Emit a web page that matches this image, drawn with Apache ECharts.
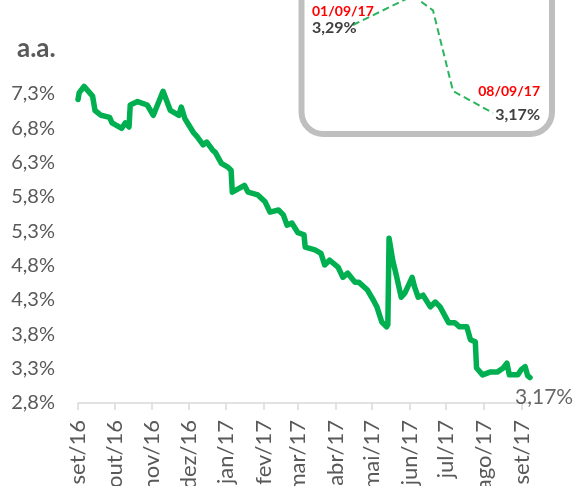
<!DOCTYPE html>
<html>
<head>
<meta charset="utf-8">
<script src="https://cdn.jsdelivr.net/npm/echarts@6/dist/echarts.min.js"></script>
<style>
  html, body { margin: 0; padding: 0; background: #ffffff; }
  #chart { width: 577px; height: 486px; }
</style>
</head>
<body>
<div id="chart"></div>
<script>
// Month abbreviations for the date axis (pt-BR)
const monthNames = ['jan', 'fev', 'mar', 'abr', 'mai', 'jun', 'jul', 'ago', 'set', 'out', 'nov', 'dez'];

// Axis range and y tick spacing (% a.a.)
const axisStart = '2016-09-01';
const axisEnd = '2017-09-08';
const yMin = 2.8;
const yMax = 7.3;
const yStep = 0.5;

// Daily rate, set/16 - ago/17 (% a.a.)
const dates = [
  '2016-09-01', '2016-09-02', '2016-09-06', '2016-09-13', '2016-09-15', '2016-09-20',
  '2016-09-27', '2016-09-29', '2016-10-07', '2016-10-10', '2016-10-13', '2016-10-14',
  '2016-10-20', '2016-10-28', '2016-11-02', '2016-11-10', '2016-11-16', '2016-11-23',
  '2016-11-25', '2016-11-28', '2016-12-05', '2016-12-08', '2016-12-13', '2016-12-16',
  '2016-12-21', '2016-12-23', '2016-12-28', '2017-01-02', '2017-01-05', '2017-01-06',
  '2017-01-16', '2017-01-19', '2017-01-27', '2017-02-02', '2017-02-06', '2017-02-13',
  '2017-02-17', '2017-02-20', '2017-02-24', '2017-03-01', '2017-03-06', '2017-03-07',
  '2017-03-15', '2017-03-20', '2017-03-23', '2017-03-27', '2017-04-03', '2017-04-07',
  '2017-04-11', '2017-04-17', '2017-04-20', '2017-04-27', '2017-05-02', '2017-05-05',
  '2017-05-09', '2017-05-13', '2017-05-14', '2017-05-15', '2017-05-18', '2017-05-21',
  '2017-05-25', '2017-05-28', '2017-06-03', '2017-06-05', '2017-06-08', '2017-06-12',
  '2017-06-18', '2017-06-22', '2017-06-26', '2017-07-03', '2017-07-08', '2017-07-12',
  '2017-07-18', '2017-07-21', '2017-07-25', '2017-07-26', '2017-07-31', '2017-08-06',
  '2017-08-12', '2017-08-17', '2017-08-20', '2017-08-22', '2017-08-29'
];
const rates = [
  7.22, 7.32, 7.41, 7.27, 7.06, 6.99,
  6.96, 6.88, 6.80, 6.88, 6.82, 7.14,
  7.19, 7.14, 6.99, 7.34, 7.06, 6.99,
  7.11, 6.94, 6.74, 6.68, 6.56, 6.60,
  6.48, 6.45, 6.29, 6.24, 6.19, 5.87,
  5.97, 5.87, 5.83, 5.73, 5.58, 5.61,
  5.54, 5.39, 5.42, 5.28, 5.25, 5.07,
  5.03, 4.98, 4.81, 4.88, 4.78, 4.63,
  4.69, 4.56, 4.56, 4.45, 4.30, 4.20,
  3.98, 3.91, 3.94, 5.20, 4.88, 4.66,
  4.34, 4.40, 4.63, 4.49, 4.34, 4.37,
  4.20, 4.27, 4.20, 3.97, 3.97, 3.91,
  3.91, 3.72, 3.69, 3.31, 3.21, 3.25,
  3.25, 3.31, 3.38, 3.21, 3.21
];

// First days of set/17, shown in the detail box
const detailDates = ['2017-09-01', '2017-09-04', '2017-09-05', '2017-09-06', '2017-09-08'];
const detailRates = [3.29, 3.33, 3.31, 3.20, 3.17];

const FONT = 'Lato';
const GREEN = '#00b050';

function isoDay(t) { return new Date(t).toISOString().slice(0, 10); }
function pct(v, digits) { return v.toFixed(digits).replace('.', ',') + '%'; }
function shortDate(iso) { return iso.slice(8, 10) + '/' + iso.slice(5, 7) + '/' + iso.slice(2, 4); }

// One category per calendar day
const days = [];
for (let t = Date.parse(axisStart + 'T00:00:00Z'); t <= Date.parse(axisEnd + 'T00:00:00Z'); t += 86400000) {
  days.push(isoDay(t));
}
const isMonthStart = (idx, value) => value.slice(8, 10) === '01';

const allDates = dates.concat(detailDates);
const allRates = rates.concat(detailRates);
const mainData = allDates.map((d, i) => [d, allRates[i]]);
const lastIdx = allDates.length - 1;

const lastDetail = detailDates.length - 1;
const detailData = detailDates.map((d, i) => {
  const item = { value: [d, detailRates[i]] };
  if (i === 0) {
    item.label = {
      show: true, position: 'inside', align: 'left', verticalAlign: 'top', offset: [-41, -21],
      formatter: p => '{d|' + shortDate(p.value[0]) + '}\n{v|' + pct(p.value[1], 2) + '}',
      rich: {
        d: { fontFamily: FONT, fontSize: 14, fontWeight: 'bold', color: '#ff0000', lineHeight: 15 },
        v: { fontFamily: FONT, fontSize: 16, fontWeight: 'bold', color: '#404040', lineHeight: 17 }
      }
    };
  } else if (i === lastDetail) {
    item.label = {
      show: true, position: 'inside', align: 'right', verticalAlign: 'top', offset: [47, -31],
      formatter: p => '{d|' + shortDate(p.value[0]) + '}\n{v|' + pct(p.value[1], 2) + '}',
      rich: {
        d: { fontFamily: FONT, fontSize: 14, fontWeight: 'bold', color: '#ff0000', lineHeight: 19, align: 'right' },
        v: { fontFamily: FONT, fontSize: 16, fontWeight: 'bold', color: '#404040', lineHeight: 27, align: 'right' }
      }
    };
  }
  return item;
});

const chart = echarts.init(document.getElementById('chart'), null, { renderer: 'canvas' });

chart.setOption({
  animation: false,
  backgroundColor: '#ffffff',
  textStyle: { fontFamily: FONT },
  graphic: [
    {
      type: 'rect',
      z: 0,
      shape: { x: 301.5, y: -40, width: 250.5, height: 174, r: 22 },
      style: { fill: '#ffffff', stroke: '#bfbfbf', lineWidth: 6 }
    },
    {
      type: 'text',
      left: 17,
      top: 36,
      style: { text: 'a.a.', fontFamily: FONT, fontSize: 26, fontWeight: 'bold', fill: '#595959' }
    }
  ],
  grid: [
    { left: 78, right: 47, top: 94, bottom: 83, containLabel: false, outerBoundsMode: 'none' },
    { left: 353, width: 140, top: 25, height: 88, containLabel: false, outerBoundsMode: 'none' }
  ],
  xAxis: [
    {
      type: 'category',
      gridIndex: 0,
      data: days,
      boundaryGap: false,
      axisLine: { show: true, lineStyle: { color: '#d9d9d9', width: 1.5 } },
      axisTick: { show: true, interval: isMonthStart, length: 7, lineStyle: { color: '#d9d9d9', width: 1.5 } },
      axisLabel: {
        interval: isMonthStart,
        rotate: 90,
        margin: 17,
        fontFamily: FONT,
        fontSize: 22,
        color: '#595959',
        formatter: v => monthNames[+v.slice(5, 7) - 1] + '/' + v.slice(2, 4)
      },
      splitLine: { show: false }
    },
    {
      type: 'time',
      gridIndex: 1,
      min: detailDates[0],
      max: detailDates[lastDetail],
      show: false
    }
  ],
  yAxis: [
    {
      type: 'value',
      gridIndex: 0,
      min: yMin,
      max: yMax,
      interval: yStep,
      axisLine: { show: false },
      axisTick: { show: false },
      splitLine: { show: false },
      axisLabel: {
        margin: 23,
        fontFamily: FONT,
        fontSize: 20,
        color: '#595959',
        formatter: v => pct(v, 1)
      }
    },
    {
      type: 'value',
      gridIndex: 1,
      min: detailRates[lastDetail],
      max: detailRates[0],
      show: false
    }
  ],
  series: [
    {
      type: 'line',
      xAxisIndex: 0,
      yAxisIndex: 0,
      data: mainData,
      showSymbol: false,
      clip: false,
      lineStyle: { color: GREEN, width: 5.5, join: 'round', cap: 'round' },
      z: 3
    },
    {
      type: 'scatter',
      xAxisIndex: 0,
      yAxisIndex: 0,
      data: [mainData[lastIdx]],
      symbolSize: 1,
      itemStyle: { color: 'rgba(0,0,0,0)' },
      label: {
        show: true, position: 'inside', align: 'left', verticalAlign: 'top', offset: [-15, 9],
        fontFamily: FONT, fontSize: 21, color: '#404040',
        formatter: p => pct(p.value[1], 2)
      },
      z: 4
    },
    {
      type: 'line',
      xAxisIndex: 1,
      yAxisIndex: 1,
      data: detailData,
      symbol: 'circle',
      symbolSize: 1,
      showAllSymbol: true,
      itemStyle: { color: 'rgba(0,0,0,0)' },
      clip: false,
      lineStyle: { color: '#2bb55e', width: 2, type: [7, 4] },
      z: 5
    }
  ]
});
</script>
</body>
</html>
